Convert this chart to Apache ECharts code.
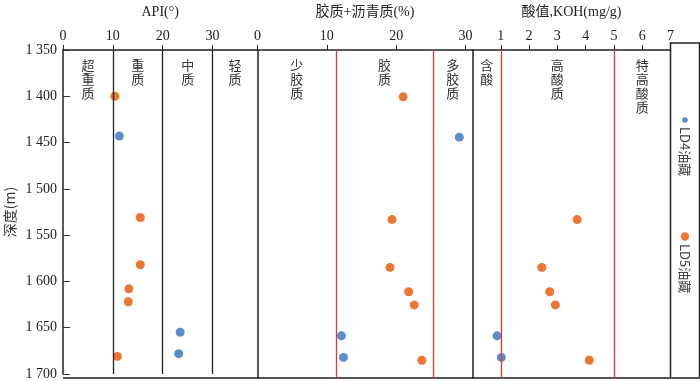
<!DOCTYPE html>
<html>
<head>
<meta charset="utf-8">
<script src="https://cdn.jsdelivr.net/npm/echarts@6/dist/echarts.min.js"></script>
<style>
  html, body { margin: 0; padding: 0; background: #fff; }
  #chart { width: 700px; height: 381px; }
</style>
</head>
<body>
<div id="chart"></div>
<script>
// depth (m) of each sample
const ld4Depth = [1443, 1655, 1678]
const ld5Depth = [1400, 1531, 1582, 1608, 1622, 1681]

// API gravity (°)
const ld4Api = [11.3, 23.5, 23.2]
const ld5Api = [10.4, 15.5, 15.5, 13.2, 13.1, 10.9]

// resin + asphaltene (%)
const ld4Resin = [29.1, 12.1, 12.4]
const ld5Resin = [21.0, 19.4, 19.1, 21.8, 22.6, 23.7]

// acid value, KOH (mg/g)
const ld4Acid = [null, 0.87, 1.02]
const ld5Acid = [null, 3.7, 2.45, 2.73, 2.93, 4.13]

// class boundaries and names per panel
const apiBounds = [0, 10, 20, 30, 39]
const apiClasses = ['超重质', '重质', '中质', '轻质']
const resinBounds = [0, 11.3, 25.3, 31]
const resinClasses = ['少胶质', '胶质', '多胶质']
const acidBounds = [0, 1, 5, 7]
const acidClasses = ['含酸', '高酸质', '特高酸质']

const depthMin = 1350
const depthMax = 1700

const BLUE = '#5b8dcc'
const ORANGE = '#ee7632'
const SERIF = '"Liberation Serif", "Noto Sans CJK SC", serif'
const CJK = '"Noto Sans CJK SC", sans-serif'

const chart = echarts.init(document.getElementById('chart'))

const pairs = (vals, depths) => vals.map((v, i) => (v == null ? null : [v, depths[i]])).filter(Boolean)

const xAxisBase = (name, max, interval, hideMin, hideMax) => ({
    type: 'value',
    position: 'top',
    min: 0,
    max: max,
    interval: interval,
    name: name,
    nameLocation: 'middle',
    nameGap: 31,
    nameTextStyle: { fontFamily: SERIF, fontSize: 14, color: '#222' },
    axisLine: { show: true, lineStyle: { color: '#222', width: 1.5 } },
    axisTick: { show: true, inside: false, length: 5, lineStyle: { color: '#222' } },
    axisLabel: {
        fontFamily: SERIF, fontSize: 14, color: '#222', margin: 7,
        showMinLabel: !hideMin, showMaxLabel: !hideMax
    },
    splitLine: { show: false }
})

const yAxisBase = (gridIndex, main) => ({
    type: 'value',
    gridIndex: gridIndex,
    inverse: true,
    min: depthMin,
    max: depthMax,
    interval: 50,
    name: main ? '深度(m)' : '',
    nameLocation: 'middle',
    nameRotate: 90,
    nameGap: 46,
    nameTextStyle: { fontFamily: CJK, fontSize: 14, color: '#333' },
    axisLine: { show: true, lineStyle: { color: '#222', width: 1.5 } },
    axisTick: { show: main, inside: true, length: 7, lineStyle: { color: '#333' } },
    axisLabel: {
        show: main, fontFamily: SERIF, fontSize: 14, color: '#222', margin: 6,
        formatter: v => String(v).replace(/(\d)(\d{3})$/, '$1 $2')
    },
    splitLine: { show: false }
})

const dividers = (bounds, color) => ({
    silent: true,
    symbol: 'none',
    label: { show: false },
    lineStyle: { color: color, width: 1.3, type: 'solid' },
    data: bounds.slice(1, -1).map(b => ({ xAxis: b }))
})

const classAreas = (bounds, names) => ({
    silent: true,
    itemStyle: { color: 'rgba(0,0,0,0)' },
    label: {
        show: true,
        position: 'insideTop',
        distance: 8,
        fontFamily: CJK,
        fontSize: 13,
        lineHeight: 14,
        color: '#333'
    },
    data: names.map((n, i) => [
        { xAxis: bounds[i], name: n.split('').join('\n') },
        { xAxis: bounds[i + 1] }
    ])
})

const scatter = (name, color, data, idx, extra) => Object.assign({
    name: name,
    type: 'scatter',
    xAxisIndex: idx,
    yAxisIndex: idx,
    symbolSize: 9,
    itemStyle: { color: color, opacity: 1 },
    data: data
}, extra || {})

chart.setOption({
    animation: false,
    grid: [
        { left: 63, top: 43, width: 194.5, height: 335 },
        { left: 257.5, top: 43, width: 215, height: 335 },
        { left: 472.5, top: 43, width: 198, height: 335 }
    ],
    xAxis: [
        Object.assign(xAxisBase('API(°)', 39, 10, false, true), { gridIndex: 0 }),
        Object.assign(xAxisBase('胶质+沥青质(%)', 31, 10, false, true), { gridIndex: 1 }),
        Object.assign(xAxisBase('酸值,KOH(mg/g)', 7, 1, true, false), { gridIndex: 2 })
    ],
    yAxis: [yAxisBase(0, true), yAxisBase(1, false), yAxisBase(2, false)],
    series: [
        scatter('LD5油藏', ORANGE, pairs(ld5Api, ld5Depth), 0, {
            markLine: dividers(apiBounds, '#222'),
            markArea: classAreas(apiBounds, apiClasses)
        }),
        scatter('LD4油藏', BLUE, pairs(ld4Api, ld4Depth), 0),
        scatter('LD5油藏', ORANGE, pairs(ld5Resin, ld5Depth), 1, {
            markLine: dividers(resinBounds, '#e8372c'),
            markArea: classAreas(resinBounds, resinClasses)
        }),
        scatter('LD4油藏', BLUE, pairs(ld4Resin, ld4Depth), 1),
        scatter('LD5油藏', ORANGE, pairs(ld5Acid, ld5Depth), 2, {
            markLine: dividers(acidBounds, '#e8372c'),
            markArea: classAreas(acidBounds, acidClasses)
        }),
        scatter('LD4油藏', BLUE, pairs(ld4Acid, ld4Depth), 2)
    ],
    graphic: [
        // legend box at the right
        { type: 'rect', shape: { x: 670.5, y: 43, width: 29, height: 335 },
          style: { fill: 'none', stroke: '#222', lineWidth: 1.5 } },
        { type: 'line', shape: { x1: 63, y1: 378, x2: 700, y2: 378 },
          style: { stroke: '#555', lineWidth: 2 } },
        { type: 'circle', shape: { cx: 685, cy: 120, r: 2.8 }, style: { fill: BLUE } },
        { type: 'text', x: 685, y: 127, rotation: -Math.PI / 2,
          style: { text: 'LD4油藏', fontFamily: CJK, fontSize: 13, fill: '#444',
                   align: 'left', verticalAlign: 'middle' } },
        { type: 'circle', shape: { cx: 685, cy: 236.5, r: 4.2 }, style: { fill: ORANGE } },
        { type: 'text', x: 685, y: 244, rotation: -Math.PI / 2,
          style: { text: 'LD5油藏', fontFamily: CJK, fontSize: 13, fill: '#444',
                   align: 'left', verticalAlign: 'middle' } }
    ]
})
</script>
</body>
</html>
